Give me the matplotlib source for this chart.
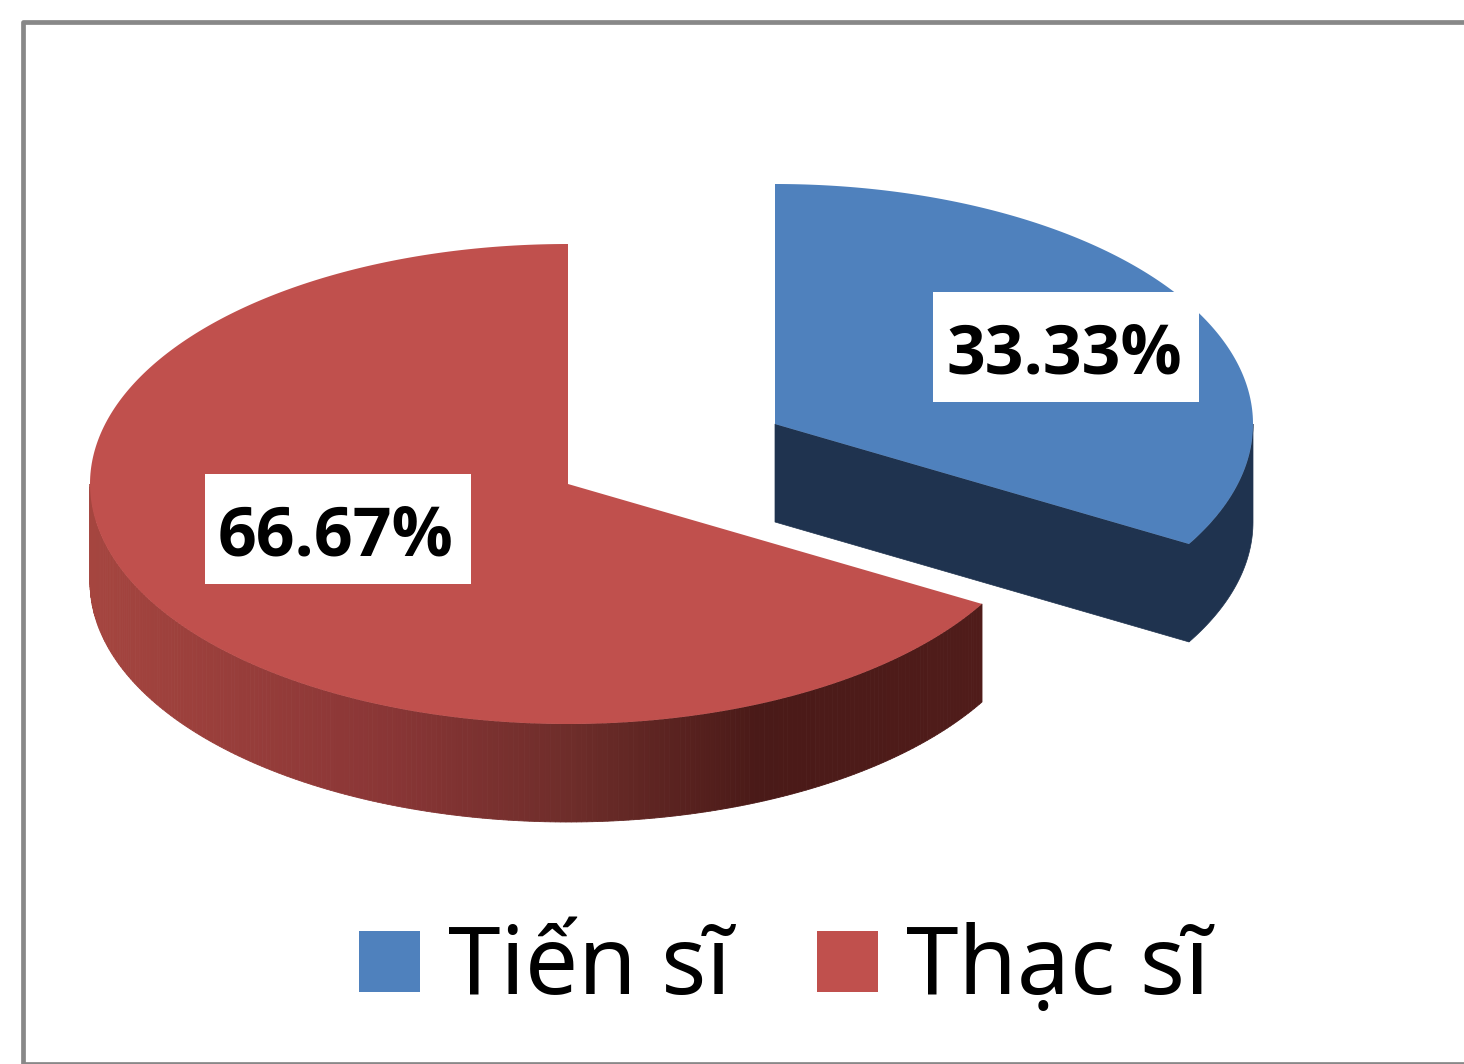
import numpy as np
import matplotlib
matplotlib.use("Agg")
import matplotlib.pyplot as plt
from matplotlib.patches import Polygon, Rectangle
from matplotlib.colors import LinearSegmentedColormap

categories = ["Tiến sĩ", "Thạc sĩ"]
values = [33.33, 66.67]
labels = ["33.33%", "66.67%"]

BLUE, BLUE_DARK = "#4F81BD", "#1F334F"
RED = "#C0504D"
red_wall = LinearSegmentedColormap.from_list(
    "red_wall", [(0, "#A5453F"), (0.33, "#8A3636"), (0.54, "#6E2D2A"), (0.75, "#4A1A18"), (1, "#501C1A")])

A, B, DEPTH = 478, 240, 98
CENTRES = [(775, 424), (568, 484)]


def rim(cx, cy, t):
    return np.c_[cx + A * np.cos(t), cy - B * np.sin(t)]


fig = plt.figure(figsize=(14.64, 10.64), dpi=100)
ax = fig.add_axes([0, 0, 1, 1])
ax.set_xlim(0, 1464)
ax.set_ylim(1064, 0)
ax.axis("off")

# chart frame, open on the right
ax.plot([1464, 23, 23, 1464], [21.5, 21.5, 1064, 1064], color="#888888", lw=3.4, zorder=1)

# slices run clockwise from 12 o'clock
sweep = np.array(values) / sum(values) * 2 * np.pi
starts = np.pi / 2 - np.r_[0, np.cumsum(sweep)[:-1]]
ends = starts - sweep

# blue slice
cx, cy = CENTRES[0]
top = rim(cx, cy, np.linspace(starts[0], ends[0], 200))
wall = rim(cx, cy, np.linspace(0, ends[0], 40))
ax.add_patch(Polygon(np.r_[wall, wall[::-1] + [0, DEPTH]], color=BLUE_DARK, lw=0.5, zorder=2))
cut = np.array([[cx, cy], top[-1]])
ax.add_patch(Polygon(np.r_[cut, cut[::-1] + [0, DEPTH]], color=BLUE_DARK, lw=0.5, zorder=2))
ax.add_patch(Polygon(np.r_[[[cx, cy]], top], color=BLUE, lw=0, zorder=3))

# red slice, outer wall shaded along its length
cx, cy = CENTRES[1]
top = rim(cx, cy, np.linspace(starts[1], ends[1], 300))
wall_t = np.linspace(np.pi, 2 * np.pi + starts[1], 240)
x_left, x_right = cx - A, cx + A * np.cos(starts[1])
for i in range(len(wall_t) - 1):
    seg = rim(cx, cy, wall_t[i:i + 2])
    c = red_wall((seg[:, 0].mean() - x_left) / (x_right - x_left))
    ax.add_patch(Polygon(np.r_[seg, seg[::-1] + [0, DEPTH]], facecolor=c, edgecolor=c, lw=0.6, zorder=4))
ax.add_patch(Polygon(np.r_[[[cx, cy]], top], color=RED, lw=0, zorder=5))

# data labels on white boxes
label_boxes = [(1066, 347), (338, 529)]
for (x, y), s in zip(label_boxes, labels):
    ax.add_patch(Rectangle((x - 133, y - 55), 266, 110, fc="white", ec="none", zorder=6))
    ax.text(x - 2, y + 26, s, fontsize=49, fontweight="bold", family="Open Sans",
            ha="center", va="baseline", zorder=7)

# legend
legend_x = [359, 817]
for x, name, c in zip(legend_x, categories, [BLUE, RED]):
    ax.add_patch(Rectangle((x, 931), 61, 61, fc=c, ec="none", zorder=6))
    ax.text(x + 89, 994, name, fontsize=68, family="Noto Sans", ha="left", va="baseline", zorder=7)

fig.savefig("out.png", dpi=100)
